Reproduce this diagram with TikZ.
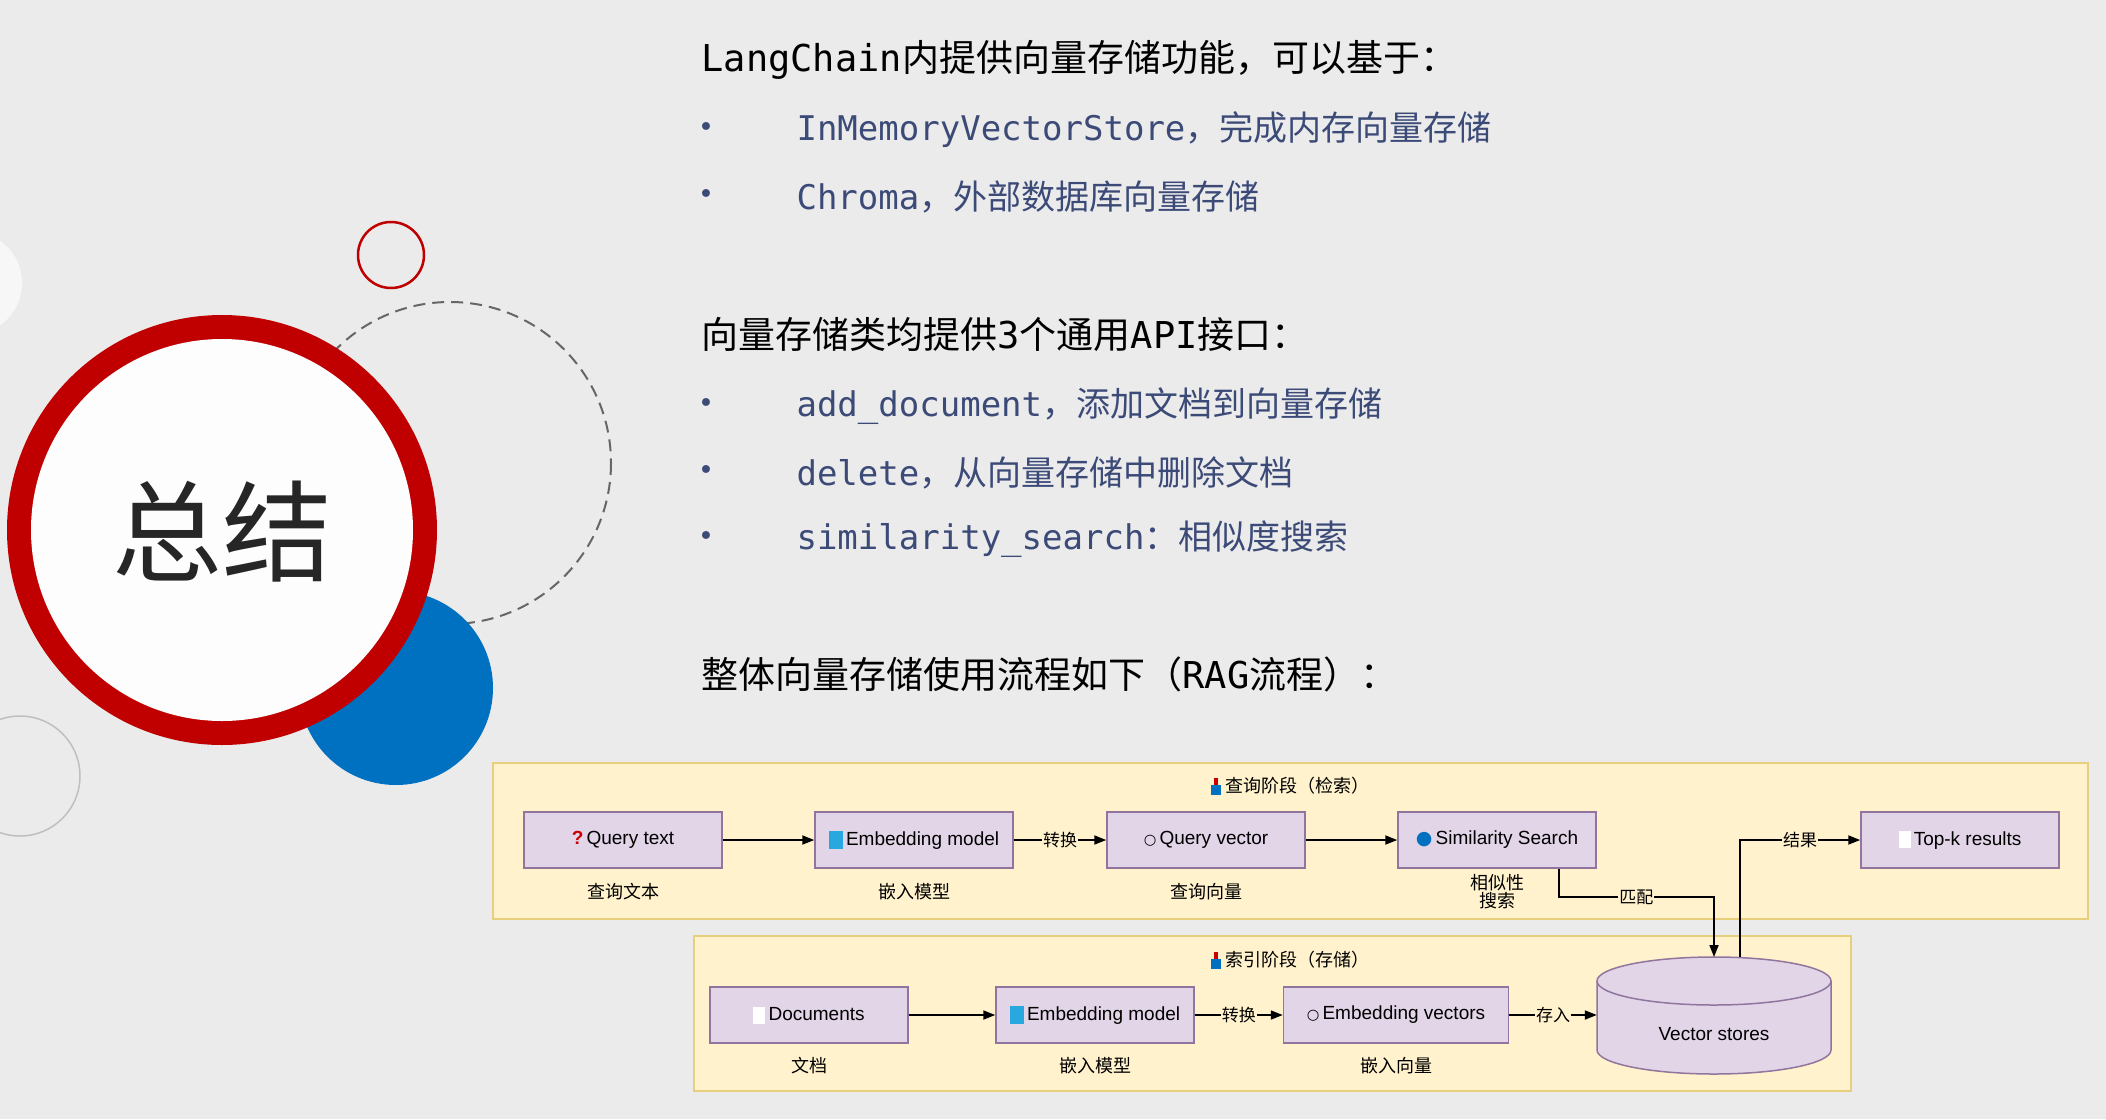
\documentclass[tikz,border=0pt]{standalone}
\usepackage{fontspec}
\setmainfont{Liberation Sans}
\newfontfamily\cjk{Noto Sans CJK SC}
\newfontfamily\mono{DejaVu Sans Mono}
\newfontfamily\dvs{DejaVu Sans}
\usetikzlibrary{shapes.geometric,arrows.meta}
\definecolor{bg}{HTML}{EBEBEB}
\definecolor{ringred}{HTML}{C00000}
\definecolor{dblue}{HTML}{0070C0}
\definecolor{btxt}{HTML}{3C4A78}
\definecolor{frame}{HTML}{FFF2CC}
\definecolor{frameb}{HTML}{E8CF7E}
\definecolor{boxf}{HTML}{E1D5E7}
\definecolor{boxb}{HTML}{9673A6}
\definecolor{ecyan}{HTML}{29A8E0}
\tikzset{
 box/.style={draw=boxb!80!gray,fill=boxf,line width=1.5pt,minimum width=198pt,minimum height=56pt,inner sep=0pt,font=\fontsize{19}{22}\selectfont},
 lab/.style={font=\cjk\fontsize{18}{22}\selectfont,align=center},
 frm/.style={draw=frameb,fill=frame,line width=1.5pt},
 arr/.style={-{Triangle[length=12pt,width=9pt]},line width=1.8pt},
 alab/.style={fill=frame,inner sep=1pt,font=\cjk\fontsize{17}{20}\selectfont},
 head/.style={anchor=west,font=\fontsize{37}{44}\selectfont},
 bul/.style={anchor=west,text=btxt,font=\fontsize{34}{40}\selectfont},
 dot/.style={anchor=center,text=btxt,font=\dvs\fontsize{27}{30}\selectfont},
}
\newcommand{\ticon}{\raisebox{-2pt}{\textcolor{dblue}{\rule{10pt}{10pt}}}\kern-7pt\raisebox{8pt}{\textcolor{red!80!black}{\rule{4pt}{7pt}}}\kern3pt}
\newcommand{\eicon}{\raisebox{-3pt}{\textcolor{ecyan}{\rule{14pt}{18pt}}}}
\newcommand{\dicon}{\raisebox{-3pt}{\textcolor{white}{\rule{12pt}{17pt}}}}
\begin{document}
\begin{tikzpicture}[x=1pt,y=-1pt]
\useasboundingbox (0,0) rectangle (2106,1119);
\fill[bg] (0,0) rectangle (2106,1119);
% decorations
\fill[white!60!bg] (-30,283) circle (52);
\draw[gray!50,line width=1.5pt] (20,776) circle (60);
\draw[gray!80!black,line width=2pt,dash pattern=on 12pt off 7pt] (450,463) circle (161);
\draw[ringred,line width=2.5pt] (391,255) circle (33);
\fill[dblue] (396,688) circle (97);
\fill[ringred] (222,530) circle (215);
\fill[white!92!bg] (222,530) circle (191);
\node[font=\cjk\fontsize{110}{120}\selectfont,text=black!85] (zj) at (222,532) {总结};
% text
\node[head] (h1) at (698,60) {\mono LangChain{\cjk 内提供向量存储功能，可以基于：}};
\node[dot] (d1) at (706,130) {•};
\node[bul] (b1) at (793,130) {\mono InMemoryVectorStore{\cjk ，完成内存向量存储}};
\node[dot] (d2) at (706,197) {•};
\node[bul] (b2) at (793,197) {\mono Chroma{\cjk ，外部数据库向量存储}};
\node[head] (h2) at (698,334) {\cjk 向量存储类均提供{\mono 3}个通用{\mono API}接口：};
\node[dot] (d3) at (706,406) {•};
\node[bul] (b3) at (793,406) {\mono add\_document{\cjk ，添加文档到向量存储}};
\node[dot] (d4) at (706,473) {•};
\node[bul] (b4) at (793,473) {\mono delete{\cjk ，从向量存储中删除文档}};
\node[dot] (d5) at (706,539) {•};
\node[bul] (b5) at (793,539) {\mono similarity\_search{\cjk ：相似度搜索}};
\node[head] (h3) at (698,674) {\cjk 整体向量存储使用流程如下（{\mono RAG}流程）：};
% frames
\draw[frm] (493,763) rectangle (2088,919);
\draw[frm] (694,936) rectangle (1851,1091);
\node[font=\cjk\fontsize{18}{22}\selectfont] (t1) at (1290,786) {\ticon\ 查询阶段（检索）};
\node[font=\cjk\fontsize{18}{22}\selectfont] (t2) at (1290,960) {\ticon\ 索引阶段（存储）};
% top row
\node[box] (qt) at (623,840) {{\color{red!80!black}\bfseries ?}\,Query text};
\node[box] (em1) at (914,840) {\eicon\,Embedding model};
\node[box] (qv) at (1206,840) {{\dvs\Large ○}\,Query vector};
\node[box] (ss) at (1497,840) {{\color{dblue}\dvs ●}\,Similarity Search};
\node[box] (tk) at (1960,840) {\dicon\,Top-k results};
\node[lab] (l1) at (623,892) {查询文本};
\node[lab] (l2) at (914,892) {嵌入模型};
\node[lab] (l3) at (1206,892) {查询向量};
\node[lab] (l4) at (1497,892) {相似性\\[-4pt]搜索};
% bottom row
\node[box] (dc) at (809,1015) {\dicon\,Documents};
\node[box] (em2) at (1095,1015) {\eicon\,Embedding model};
\node[box,minimum width=225pt] (ev) at (1396,1015) {{\dvs\Large ○}\,Embedding vectors};
% cylinder
\filldraw[draw=boxb!80!gray,fill=boxf,line width=1.5pt] (1597,981) -- (1597,1050) arc[start angle=180,end angle=0,x radius=117,y radius=24] -- (1831,981);
\filldraw[draw=boxb!80!gray,fill=boxf,line width=1.5pt] (1714,981) ellipse[x radius=117,y radius=24];
\node[minimum width=234pt,minimum height=118pt,inner sep=0pt] (vs) at (1714,1015) {};
\node[font=\fontsize{19}{22}\selectfont] (vst) at (1714,1034) {Vector stores};
\node[lab] (m1) at (809,1066) {文档};
\node[lab] (m2) at (1095,1066) {嵌入模型};
\node[lab] (m3) at (1396,1066) {嵌入向量};
% arrows
\draw[arr] (qt) -- (em1);
\draw[arr] (em1) -- node[alab]{转换} (qv);
\draw[arr] (qv) -- (ss);
\draw[arr] (dc) -- (em2);
\draw[arr] (em2) -- node[alab]{转换} (ev);
\draw[arr] (ev) -- node[alab]{存入} (vs.west);
\coordinate (vtop) at (1714,957);
\coordinate (vtop2) at (1740,957);
\draw[arr] (ss.south east) ++(-38,0) |- node[alab,pos=0.75]{匹配} (1714,897) -- (vtop);
\draw[arr] (vtop2) |- node[alab,pos=0.75]{结果} (tk);
\end{tikzpicture}
\end{document}
